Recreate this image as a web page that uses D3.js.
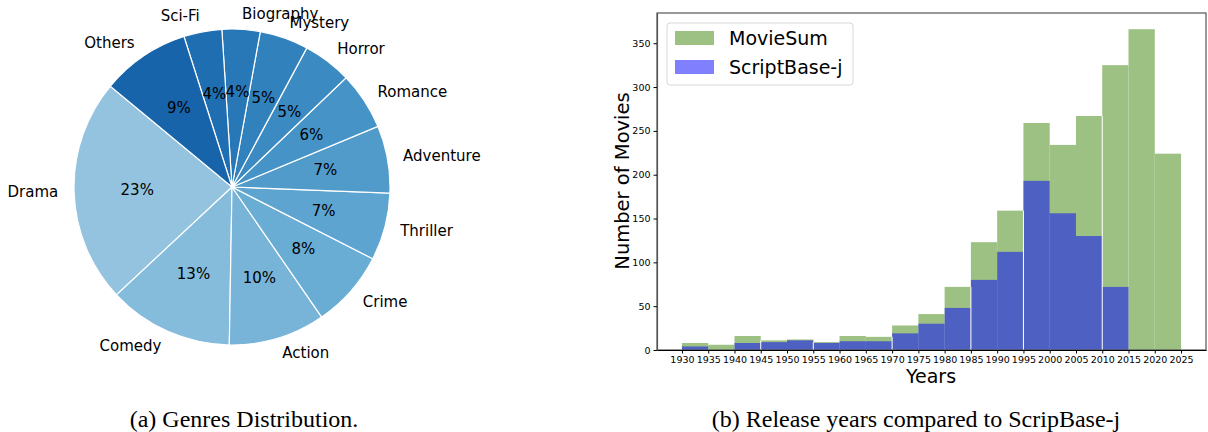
<!DOCTYPE html>
<html>
<head>
<meta charset="utf-8">
<script src="https://cdn.jsdelivr.net/npm/d3@7"></script>
<style>
  body { margin: 0; background: #fff; }
  svg { display: block; }
  text { font-family: "DejaVu Sans", sans-serif; fill: #000; }
  .caption { font-family: "Liberation Serif", "Times New Roman", serif; font-size: 24px; }
</style>
</head>
<body>
<div id="chart"></div>
<script>
'use strict';

// genres pie (a)
var genres   = ["Drama", "Comedy", "Action", "Crime", "Thriller", "Adventure",
                "Romance", "Horror", "Mystery", "Biography", "Sci-Fi", "Others"];
var genrePct = [23.0, 12.8, 9.9, 7.9, 6.9, 6.9, 5.9, 5.0, 5.0, 3.9, 3.9, 9.1];

// release years histogram (b)
var binStart   = [1930, 1935, 1940, 1945, 1950, 1955, 1960, 1965, 1970, 1975,
                  1980, 1985, 1990, 1995, 2000, 2005, 2010, 2015, 2020];
var movieSum   = [8, 6, 16, 11, 12, 9, 16, 15, 28, 41, 72, 123, 159, 259, 234, 267, 325, 366, 224];
var scriptBase = [4, 0, 8, 9, 11, 8, 10, 10, 19, 30, 48, 80, 112, 193, 156, 130, 72, 0, 0];
var yearTicks  = d3.range(1930, 2026, 5);
var countTicks = [0, 50, 100, 150, 200, 250, 300, 350];
var gapYears   = [1945, 1955, 1970, 1985, 1995, 2010];

var W = 1208, H = 432;
var svg = d3.select("#chart").append("svg").attr("width", W).attr("height", H);

// ---------- pie ----------
var cx = 232, cy = 187, r = 158;
var startDeg = 140.4;   // matplotlib style, counter clockwise from 3 o'clock
var toRad = Math.PI / 180;

var pie = d3.pie().sort(null)
    .startAngle((90 - startDeg) * toRad)
    .endAngle((90 - startDeg - 360) * toRad);
var arcs = pie(genrePct);
var color = function(i) { return d3.interpolateBlues(0.4 + 0.4 * i / (genres.length - 1)); };
var arc = d3.arc().innerRadius(0).outerRadius(r);

var gp = svg.append("g").attr("transform", "translate(" + cx + "," + cy + ")");
gp.selectAll("path").data(arcs).enter().append("path")
    .attr("d", arc)
    .attr("fill", function(d, i) { return color(i); })
    .attr("stroke", "#fff").attr("stroke-width", 1.2);

function mid(d) { return (d.startAngle + d.endAngle) / 2; }

gp.selectAll("text.pct").data(arcs).enter().append("text")
    .attr("class", "pct")
    .attr("x", function(d) { return 0.6 * r * Math.sin(mid(d)); })
    .attr("y", function(d) { return -0.6 * r * Math.cos(mid(d)); })
    .attr("text-anchor", "middle").attr("dominant-baseline", "central")
    .style("font-size", "15px")
    .text(function(d) { return Math.round(d.data) + "%"; });

gp.selectAll("text.lab").data(arcs).enter().append("text")
    .attr("class", "lab")
    .attr("x", function(d) { return 1.1 * r * Math.sin(mid(d)); })
    .attr("y", function(d) { return -1.1 * r * Math.cos(mid(d)); })
    .attr("text-anchor", function(d) { return Math.sin(mid(d)) > 0 ? "start" : "end"; })
    .attr("dominant-baseline", "central")
    .style("font-size", "15px")
    .text(function(d, i) { return genres[i]; });

// ---------- histogram ----------
var x = d3.scaleLinear().domain([1925.25, 2029.75]).range([657, 1206]);
var y = d3.scaleLinear().domain([0, 384.5]).range([350, 13]);

var gh = svg.append("g");
gh.selectAll("rect.ms").data(binStart).enter().append("rect")
    .attr("class", "ms")
    .attr("x", function(d) { return x(d); })
    .attr("width", function(d) { return x(d + 5) - x(d); })
    .attr("y", function(d, i) { return y(movieSum[i]); })
    .attr("height", function(d, i) { return y(0) - y(movieSum[i]); })
    .attr("fill", "#9dc183");

gh.selectAll("rect.sb").data(binStart).enter().append("rect")
    .attr("class", "sb")
    .attr("x", function(d) { return x(d); })
    .attr("width", function(d) { return x(d + 5) - x(d); })
    .attr("y", function(d, i) { return y(scriptBase[i]); })
    .attr("height", function(d, i) { return y(0) - y(scriptBase[i]); })
    .attr("fill", "rgba(0,0,255,0.5)");

// thin white seams between some bins
gh.selectAll("line.gap").data(gapYears).enter().append("line")
    .attr("x1", function(d) { return x(d); }).attr("x2", function(d) { return x(d); })
    .attr("y1", y(0))
    .attr("y2", function(d) {
        var i = binStart.indexOf(d);
        return y(Math.min(movieSum[i], movieSum[i - 1]));
    })
    .attr("stroke", "#fff").attr("stroke-width", 1);

// frame
svg.append("rect")
    .attr("x", 657).attr("y", 13).attr("width", 1206 - 657).attr("height", 350 - 13)
    .attr("fill", "none").attr("stroke", "#555").attr("stroke-width", 1.2);

// axes
var xAxis = svg.append("g").attr("transform", "translate(0,350)")
    .call(d3.axisBottom(x).tickValues(yearTicks).tickFormat(d3.format("d"))
          .tickSizeInner(3.5).tickSizeOuter(0).tickPadding(2.5));
xAxis.select(".domain").attr("stroke", "#000").attr("stroke-width", 1.2);
xAxis.selectAll("text").style("font-size", "9.5px").style("font-family", "DejaVu Sans");

var yAxis = svg.append("g").attr("transform", "translate(657,0)")
    .call(d3.axisLeft(y).tickValues(countTicks)
          .tickSizeInner(3.5).tickSizeOuter(0).tickPadding(3));
yAxis.select(".domain").attr("stroke", "#555").attr("stroke-width", 1.2);
yAxis.selectAll("text").style("font-size", "9.5px").style("font-family", "DejaVu Sans");

svg.append("text")
    .attr("x", 931).attr("y", 383).attr("text-anchor", "middle")
    .style("font-size", "19px").text("Years");
svg.append("text")
    .attr("transform", "translate(629,181) rotate(-90)")
    .attr("text-anchor", "middle")
    .style("font-size", "19.5px").text("Number of Movies");

// legend
var lg = svg.append("g");
lg.append("rect")
    .attr("x", 667).attr("y", 23).attr("width", 186).attr("height", 62).attr("rx", 3)
    .attr("fill", "#fff").attr("fill-opacity", 0.8)
    .attr("stroke", "#d8d8d8");
var legendItems = [{name: "MovieSum", fill: "#9dc183"}, {name: "ScriptBase-j", fill: "#8080ff"}];
legendItems.forEach(function(it, i) {
    lg.append("rect").attr("x", 675).attr("y", 31 + i * 29)
        .attr("width", 39).attr("height", 14).attr("fill", it.fill);
    lg.append("text").attr("x", 729).attr("y", 45 + i * 29)
        .style("font-size", "19px").text(it.name);
});

// captions
svg.append("text").attr("class", "caption")
    .attr("x", 244).attr("y", 427).attr("text-anchor", "middle")
    .text("(a) Genres Distribution.");
svg.append("text").attr("class", "caption")
    .attr("x", 916).attr("y", 427).attr("text-anchor", "middle")
    .text("(b) Release years compared to ScripBase-j");
</script>
</body>
</html>
